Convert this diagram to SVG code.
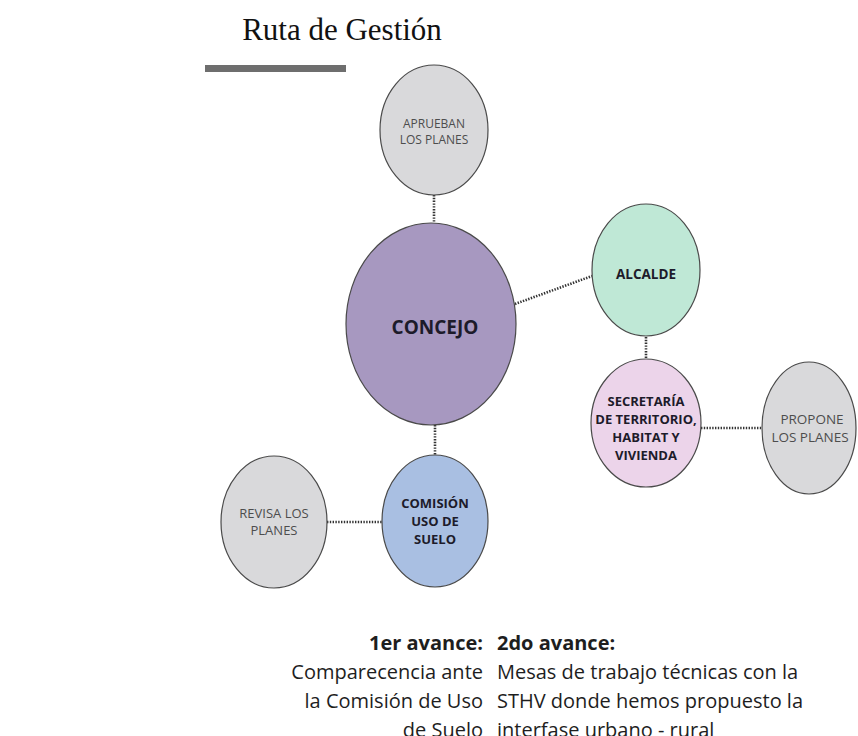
<svg xmlns="http://www.w3.org/2000/svg" width="858" height="736" viewBox="0 0 858 736">
<defs>
<style>
.title{font-family:"Liberation Serif","Times New Roman",serif;font-size:31px;fill:#111;}
.node ellipse{stroke:#4a4a4a;stroke-width:1.2;}
.gray ellipse{fill:#d9d9db;}
.lbl{font-family:"Open Sans","DejaVu Sans",sans-serif;font-size:12px;fill:#4d4d4d;text-anchor:middle;}
.blbl{font-family:"Open Sans","DejaVu Sans",sans-serif;font-size:13px;font-weight:bold;fill:#1d1b2a;text-anchor:middle;}
.conn line{stroke:#333;stroke-width:2.6;stroke-dasharray:1.4 1.4;}
.bt{font-family:"Open Sans","DejaVu Sans",sans-serif;font-size:20px;fill:#1e1e1e;}
.bb{font-weight:bold;}
</style>
</defs>
<rect width="858" height="736" fill="#ffffff"/>
<text class="title" x="342" y="40" text-anchor="middle">Ruta de Gestión</text>
<rect x="205" y="65" width="141" height="7" fill="#6e6e6e"/>

<g id="connectors" class="conn">
<line x1="434" y1="195" x2="434" y2="223"/>
<line x1="515" y1="304" x2="592" y2="276"/>
<line x1="646" y1="337" x2="646" y2="359"/>
<line x1="701" y1="428" x2="761" y2="428"/>
<line x1="435" y1="425" x2="435" y2="455"/>
<line x1="327" y1="522" x2="383" y2="522"/>
</g>

<g id="aprueban" class="node gray">
<ellipse cx="434" cy="130" rx="54" ry="65"/>
<text class="lbl" x="434" y="128">APRUEBAN</text>
<text class="lbl" x="434" y="144">LOS PLANES</text>
</g>

<g id="concejo" class="node">
<ellipse cx="431" cy="324" rx="85" ry="101" fill="#a798c0"/>
<text class="blbl" x="435" y="334" style="font-size:19px">CONCEJO</text>
</g>

<g id="alcalde" class="node">
<ellipse cx="646" cy="270" rx="54" ry="66" fill="#bfe8d6"/>
<text class="blbl" x="646" y="279" style="font-size:13.5px">ALCALDE</text>
</g>

<g id="secretaria" class="node">
<ellipse cx="646" cy="423" rx="55" ry="64" fill="#ecd4ea"/>
<text class="blbl" x="646" y="406">SECRETARÍA</text>
<text class="blbl" x="646" y="424">DE TERRITORIO,</text>
<text class="blbl" x="646" y="442">HABITAT Y</text>
<text class="blbl" x="646" y="460">VIVIENDA</text>
</g>

<g id="propone" class="node gray">
<ellipse cx="809" cy="428" rx="47" ry="66"/>
<text class="lbl" x="812" y="424" style="font-size:13.5px">PROPONE</text>
<text class="lbl" x="810" y="442" style="font-size:13.5px">LOS PLANES</text>
</g>

<g id="comision" class="node">
<ellipse cx="435" cy="521" rx="53" ry="66" fill="#a9bfe2"/>
<text class="blbl" x="435" y="508">COMISIÓN</text>
<text class="blbl" x="435" y="526">USO DE</text>
<text class="blbl" x="435" y="544">SUELO</text>
</g>

<g id="revisa" class="node gray">
<ellipse cx="274" cy="522" rx="53" ry="66"/>
<text class="lbl" x="274" y="518" style="font-size:13px">REVISA LOS</text>
<text class="lbl" x="274" y="535" style="font-size:13px">PLANES</text>
</g>

<g id="avance1" text-anchor="end">
<text class="bt bb" x="483" y="650">1er avance:</text>
<text class="bt" x="483" y="679">Comparecencia ante</text>
<text class="bt" x="483" y="708">la Comisión de Uso</text>
<text class="bt" x="483" y="737">de Suelo</text>
</g>
<g id="avance2">
<text class="bt bb" x="497" y="650">2do avance:</text>
<text class="bt" x="497" y="679">Mesas de trabajo técnicas con la</text>
<text class="bt" x="497" y="708">STHV donde hemos propuesto la</text>
<text class="bt" x="497" y="737">interfase urbano - rural</text>
</g>
</svg>
